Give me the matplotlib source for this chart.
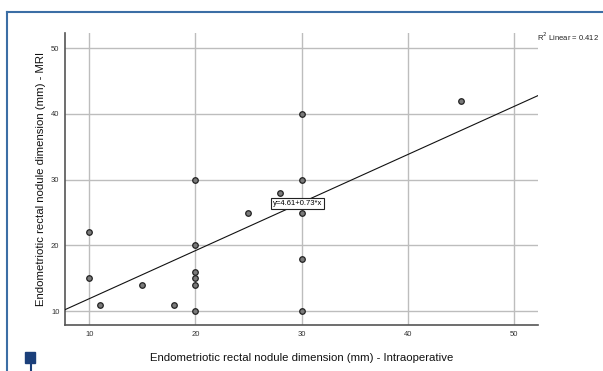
import matplotlib.pyplot as plt
from matplotlib.lines import Line2D
from matplotlib.patches import Rectangle

plt.rcParams['font.family'] = ['Liberation Sans', 'DejaVu Sans']

# data
intraop = [10, 10, 11, 15, 18, 20, 20, 20, 20, 20, 20, 25, 28, 30, 30, 30, 30, 30, 45]
mri = [22, 15, 11, 14, 11, 30, 20, 16, 15, 14, 10, 25, 28, 40, 30, 25, 18, 10, 42]
intercept = 4.61
slope = 0.73
r2 = 0.412
ticks = [10, 20, 30, 40, 50]

fig = plt.figure(figsize=(6.03, 3.71), dpi=100)
ax = fig.add_axes([0.1078, 0.124, 0.7845, 0.787])

xmin, xmax = 7.7, 52.3
ax.set_xlim(xmin, xmax)
ax.set_ylim(7.9, 52.3)

ax.set_xticks(ticks)
ax.set_yticks(ticks)
ax.grid(True, color='#bdbdbd', lw=1.0)
ax.set_axisbelow(True)
ax.tick_params(length=0, labelsize=5.5, colors='#333333', pad=4)

for s in ['top', 'right']:
    ax.spines[s].set_visible(False)
for s in ['left', 'bottom']:
    ax.spines[s].set_color('#555555')
    ax.spines[s].set_linewidth(1.2)

# fit line
ax.plot([xmin, xmax], [intercept + slope * xmin, intercept + slope * xmax],
        color='#111111', lw=0.8, zorder=3)

ax.scatter(intraop, mri, s=16, facecolor='#7a7a7a', edgecolor='#222222',
           linewidth=0.9, zorder=4)

ax.text(29.6, 26.4, 'y=%.2f+%.2f*x' % (intercept, slope), fontsize=5.5,
        ha='center', va='center', zorder=5,
        bbox=dict(boxstyle='square,pad=0.25', fc='white', ec='#222222', lw=0.8))

ax.set_xlabel('Endometriotic rectal nodule dimension (mm) - Intraoperative',
              fontsize=8.2, color='#111111', labelpad=11)
ax.set_ylabel('Endometriotic rectal nodule dimension (mm) - MRI',
              fontsize=8.2, color='#111111', labelpad=4)

fig.text(537 / 603, 1 - 37 / 371, 'R$^2$ Linear = %.3f' % r2, fontsize=5.5,
         color='#222222', va='center', ha='left')

# page frame
fig.add_artist(Line2D([6.5 / 603, 6.5 / 603], [0, 1 - 12 / 371],
                      transform=fig.transFigure, color='#3b6ea5', lw=1.5))
fig.add_artist(Line2D([6.5 / 603, 1], [1 - 12 / 371, 1 - 12 / 371],
                      transform=fig.transFigure, color='#3b6ea5', lw=1.5))
fig.add_artist(Rectangle((25 / 603, 1 - 363 / 371), 10 / 603, 11 / 371,
                         transform=fig.transFigure, color='#1b3f7a'))
fig.add_artist(Line2D([30.5 / 603, 30.5 / 603], [0, 1 - 360 / 371],
                      transform=fig.transFigure, color='#1b3f7a', lw=1.5))

fig.savefig('out.png', dpi=100)
